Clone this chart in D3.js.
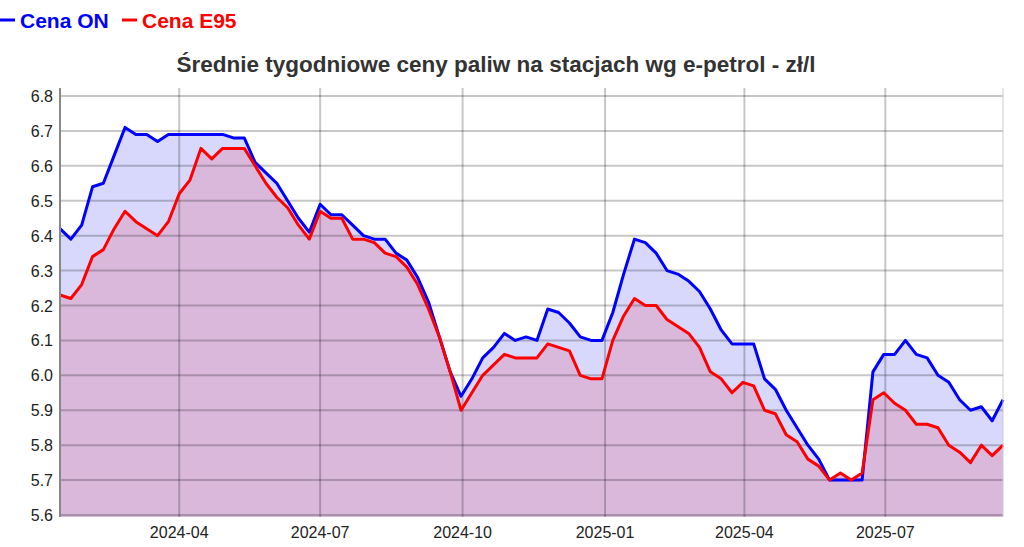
<!DOCTYPE html>
<html><head><meta charset="utf-8">
<script src="https://cdn.jsdelivr.net/npm/d3@7"></script>
<style>body{margin:0;background:#fff;font-family:Arial,"Liberation Sans",sans-serif}</style>
</head><body><svg id="c" width="1024" height="547"></svg>
<script>
const startDate = '2024-01-15'
const onPrices = [6.42,6.39,6.43,6.54,6.55,6.63,6.71,6.69,6.69,6.67,6.69,6.69,6.69,6.69,6.69,6.69,6.68,6.68,6.61,6.58,
  6.55,6.50,6.45,6.41,6.49,6.46,6.46,6.43,6.40,6.39,6.39,6.35,6.33,6.28,6.21,6.11,6.01,5.94,5.99,6.05,
  6.08,6.12,6.10,6.11,6.10,6.19,6.18,6.15,6.11,6.10,6.10,6.18,6.29,6.39,6.38,6.35,6.30,6.29,6.27,6.24,
  6.19,6.13,6.09,6.09,6.09,5.99,5.96,5.90,5.85,5.80,5.76,5.70,5.70,5.70,5.70,6.01,6.06,6.06,6.10,6.06,
  6.05,6.00,5.98,5.93,5.90,5.91,5.87,5.93]
const e95Prices = [6.23,6.22,6.26,6.34,6.36,6.42,6.47,6.44,6.42,6.40,6.44,6.52,6.56,6.65,6.62,6.65,6.65,6.65,6.60,6.55,
  6.51,6.48,6.43,6.39,6.47,6.45,6.45,6.39,6.39,6.38,6.35,6.34,6.31,6.26,6.19,6.11,6.01,5.90,5.95,6.00,
  6.03,6.06,6.05,6.05,6.05,6.09,6.08,6.07,6.00,5.99,5.99,6.10,6.17,6.22,6.20,6.20,6.16,6.14,6.12,6.08,
  6.01,5.99,5.95,5.98,5.97,5.90,5.89,5.83,5.81,5.76,5.74,5.70,5.72,5.70,5.72,5.93,5.95,5.92,5.90,5.86,
  5.86,5.85,5.80,5.78,5.75,5.80,5.77,5.80]
const yTicks = [5.6,5.7,5.8,5.9,6.0,6.1,6.2,6.3,6.4,6.5,6.6,6.7,6.8]
const xTicks = ['2024-04-01','2024-07-01','2024-10-01','2025-01-01','2025-04-01','2025-07-01']

const parse = d3.utcParse('%Y-%m-%d')
const t0 = parse(startDate)
const dates = onPrices.map((_, i) => d3.utcDay.offset(t0, i * 7))

const svg = d3.select('#c')
const L = 60, R = 1003, T = 88, B = 517
const x = d3.scaleUtc().domain([dates[0], dates[dates.length - 1]]).range([L, R])
const y = d3.scaleLinear().domain([5.6, 6.8]).range([515, 96])

const area = vals => d3.area().x((d, i) => x(dates[i])).y0(B).y1(d => y(d))(vals)
const line = vals => d3.line().x((d, i) => x(dates[i])).y(d => y(d))(vals)

svg.append('path').attr('d', area(onPrices)).attr('fill', '#d8d8fc')
svg.append('path').attr('d', area(e95Prices)).attr('fill', '#d9b8dc')

// grid over the fills, semi-transparent like the original
svg.append('g').selectAll('line').data(yTicks).join('line')
  .attr('x1', L).attr('x2', R).attr('y1', d => y(d)).attr('y2', d => y(d))
  .attr('stroke', 'rgba(0,0,0,0.22)').attr('stroke-width', 2)
svg.append('g').selectAll('line').data(xTicks.map(parse)).join('line')
  .attr('x1', d => x(d)).attr('x2', d => x(d)).attr('y1', T).attr('y2', B)
  .attr('stroke', 'rgba(0,0,0,0.22)').attr('stroke-width', 2)

svg.append('path').attr('d', line(onPrices)).attr('fill', 'none').attr('stroke', '#0000ff').attr('stroke-width', 3).attr('stroke-linejoin', 'round')
svg.append('path').attr('d', line(e95Prices)).attr('fill', 'none').attr('stroke', '#ff0000').attr('stroke-width', 3).attr('stroke-linejoin', 'round')

svg.append('line').attr('x1', L).attr('x2', L).attr('y1', T).attr('y2', B).attr('stroke', '#888').attr('stroke-width', 2)
svg.append('line').attr('x1', R).attr('x2', R).attr('y1', T).attr('y2', B).attr('stroke', '#ccc').attr('stroke-width', 1)

svg.append('g').selectAll('text').data(yTicks).join('text')
  .attr('x', 53).attr('y', d => y(d) + 6).attr('text-anchor', 'end')
  .attr('font-size', 16).attr('fill', '#222').text(d => d.toFixed(1))
svg.append('g').selectAll('text').data(xTicks.map(parse)).join('text')
  .attr('x', d => x(d)).attr('y', 538).attr('text-anchor', 'middle')
  .attr('font-size', 16).attr('fill', '#222').text(d => d3.utcFormat('%Y-%m')(d))

svg.append('text').attr('x', 496).attr('y', 72).attr('text-anchor', 'middle')
  .attr('font-size', 22.5).attr('font-weight', 'bold').attr('fill', '#333')
  .text('Średnie tygodniowe ceny paliw na stacjach wg e-petrol - zł/l')

const legend = [{ name: 'Cena ON', color: '#0000ff', x: 0 }, { name: 'Cena E95', color: '#ff0000', x: 122 }]
const lg = svg.append('g').selectAll('g').data(legend).join('g')
lg.append('line').attr('x1', d => d.x).attr('x2', d => d.x + 15).attr('y1', 20).attr('y2', 20)
  .attr('stroke', d => d.color).attr('stroke-width', 3)
lg.append('text').attr('x', d => d.x + 20).attr('y', 28).attr('font-size', 21).attr('font-weight', 'bold')
  .attr('fill', d => d.color).text(d => d.name)
</script></body></html>
